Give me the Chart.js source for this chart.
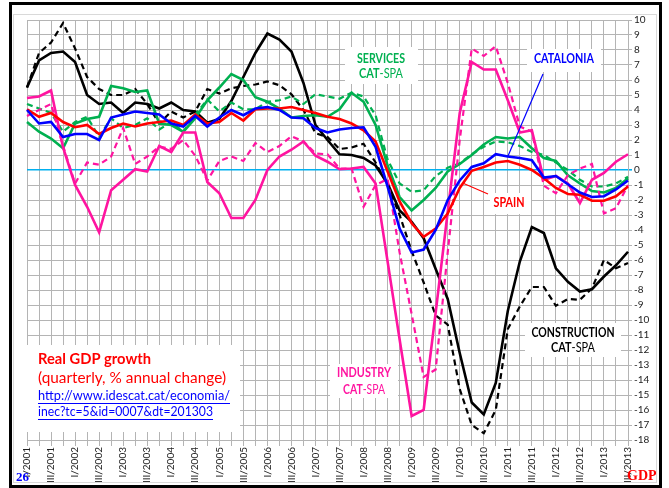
<!DOCTYPE html>
<html>
<head>
<meta charset="utf-8">
<script src="https://cdn.jsdelivr.net/npm/chart.js@4.4.1/dist/chart.umd.min.js"></script>
<style>
    html, body { margin: 0; padding: 0; background: #fff; }
    #wrap { width: 669px; height: 488px; }
</style>
</head>
<body>
<div id="wrap"><canvas id="gdp" width="669" height="488"></canvas></div>
<script>
// Quarters I/2001 ... III/2013
const romans = ['I', 'II', 'III', 'IV'];
const quarters = [];
for (let year = 2001; year <= 2013; year++) {
    romans.forEach((r, q) => {
        if (year < 2013 || q < 3) quarters.push(r + '/' + year);
    });
}

// Real GDP growth, % annual change
const catalonia = [4.0, 3.1, 3.2, 2.2, 2.4, 2.4, 2.0, 3.5, 3.7, 3.9, 3.8, 3.7, 3.1, 2.9, 3.6, 2.9, 3.5,
    4.0, 3.65, 4.1, 4.2, 4.0, 3.5, 3.45, 2.8, 2.5, 2.7, 2.8, 2.85, 1.55, -1.1, -3.9, -5.5, -5.3, -4.0,
    -2.0, -0.7, 0.2, 0.45, 1.05, 0.9, 0.8, 0.65, -0.5, -0.4, -0.95, -1.5, -1.8, -1.75, -1.3, -0.7];
const spain = [4.05, 3.55, 3.8, 3.2, 2.85, 3.0, 2.4, 2.8, 3.1, 2.9, 3.1, 3.2, 3.3, 3.0, 3.7, 3.1, 3.2,
    3.8, 3.3, 4.05, 4.1, 4.1, 4.2, 4.0, 3.8, 3.55, 3.4, 3.1, 2.65, 1.9, -0.1, -2.1, -3.55, -4.45, -3.9,
    -2.9, -1.2, -0.05, 0.2, 0.5, 0.6, 0.35, 0.0, -0.55, -1.2, -1.6, -1.65, -2.05, -2.05, -1.75, -1.1];
const servicesCat = [3.2, 2.55, 2.1, 1.45, 3.1, 3.4, 3.55, 5.6, 5.45, 5.2, 5.3, 3.1, 3.0, 2.55, 3.45, 4.65, 5.5,
    6.4, 6.0, 4.85, 4.55, 4.1, 3.5, 3.6, 3.65, 3.55, 4.05, 5.15, 4.55, 3.0, 0.3, -1.8, -2.7, -2.0, -1.2,
    -0.1, 0.4, 1.0, 1.7, 2.2, 2.1, 2.2, 1.45, 0.8, 0.6, -0.35, -0.9, -1.4, -1.5, -1.2, -0.55];
const servicesSpa = [4.4, 4.1, 3.8, 2.55, 3.2, 3.55, 2.2, 3.45, 2.8, 3.0, 3.45, 2.7, 3.2, 2.55, 3.7, 4.7, 3.9,
    4.5, 4.05, 4.05, 4.55, 4.65, 4.9, 4.4, 5.05, 4.9, 4.75, 5.15, 4.9, 3.65, 0.7, -0.9, -1.45, -1.35, -0.4,
    0.15, 0.45, 1.05, 1.55, 1.9, 1.85, 1.6, 1.2, 1.0, 0.5, 0.0, -0.65, -1.1, -1.1, -0.9, -0.45];
const industryCat = [4.8, 4.9, 5.3, 1.5, -1.0, -2.45, -4.15, -1.35, -0.65, 0.05, -0.1, 1.6, 1.2, 2.5, 2.5, -0.8, -1.55,
    -3.2, -3.2, -2.0, 0.0, 0.9, 1.35, 1.9, 0.95, 0.55, 0.05, 0.1, 0.2, -0.9, -6.1, -11.3, -16.4, -16.0, -9.5,
    -2.8, 3.8, 7.2, 6.7, 6.7, 4.65, 2.5, 2.65, -0.65, -0.4, -0.9, -2.2, -0.65, -0.2, 0.55, 1.05];
const industrySpa = [3.6, 4.0, 4.4, 1.6, -0.9, 0.5, 0.35, 0.9, 2.8, 0.4, 0.9, 1.55, 1.4, 2.0, 0.95, -0.7, 0.6,
    0.9, 0.6, 1.8, 1.2, 1.6, 2.25, 1.9, 1.1, 1.05, 0.1, 0.1, -2.45, -1.0, -0.6, -5.5, -9.6, -13.8, -13.3,
    -5.5, 2.0, 8.1, 7.6, 8.25, 5.8, 2.9, 2.55, -1.05, -1.55, -0.35, 0.1, 0.4, -2.9, -2.55, -1.0];
const constructionCat = [5.5, 7.3, 7.8, 7.9, 7.2, 5.0, 4.4, 4.5, 3.8, 4.5, 4.4, 4.1, 4.5, 4.0, 3.9, 3.15, 3.4,
    4.6, 6.2, 7.8, 9.1, 8.7, 7.9, 5.8, 3.0, 2.0, 1.05, 1.0, 0.8, 0.3, -0.9, -2.7, -3.45, -4.55, -6.6,
    -8.6, -12.2, -15.5, -16.3, -14.2, -9.4, -6.1, -3.8, -4.2, -6.55, -7.45, -8.1, -7.95, -7.1, -6.35, -5.45];
const constructionSpa = [5.5, 7.8, 8.5, 9.8, 8.1, 6.2, 5.4, 5.0, 5.0, 5.4, 4.4, 3.1, 3.9, 3.5, 3.9, 5.4, 5.1,
    5.45, 5.6, 5.7, 5.9, 5.65, 5.05, 4.0, 2.45, 2.2, 1.4, 1.5, 1.75, 0.5, -1.0, -3.0, -5.4, -7.5, -9.7,
    -10.3, -14.6, -17.0, -17.55, -16.0, -10.6, -9.1, -7.8, -7.8, -9.05, -8.6, -8.65, -7.9, -6.0, -6.55, -6.2];

const GREEN = '#00b050';
const PINK = '#ff14a0';
const GRID = '#b4b4b4';
const FONT = 'Lato';

function line(label, data, color, dashed) {
    return {
        label: label,
        data: data,
        borderColor: color,
        borderWidth: dashed ? 2.2 : 2.6,
        borderDash: dashed ? [6, 4] : [],
        pointRadius: 0,
        tension: 0,
        fill: false
    };
}

// Text squeezed to a given width (the original uses a narrow font)
function fitText(ctx, text, x, y, width, font, color, align) {
    ctx.save();
    ctx.font = font;
    ctx.fillStyle = color;
    ctx.textBaseline = 'middle';
    ctx.textAlign = 'left';
    const w = ctx.measureText(text).width;
    const k = width / w;
    let left = x;
    if (align === 'center') left = x - width / 2;
    ctx.translate(left, y);
    ctx.scale(k, 1);
    ctx.fillText(text, 0, 0);
    ctx.restore();
}

// "CAT" bold + "-SPA" normal, centred
function catSpa(ctx, cx, y, width, color) {
    ctx.save();
    ctx.font = 'bold 12.5px ' + FONT;
    const w1 = ctx.measureText('CAT').width;
    ctx.font = '12.5px ' + FONT;
    const w2 = ctx.measureText('-SPA').width;
    const k = width / (w1 + w2);
    ctx.translate(cx - width / 2, y);
    ctx.scale(k, 1);
    ctx.fillStyle = color;
    ctx.textBaseline = 'middle';
    ctx.textAlign = 'left';
    ctx.font = 'bold 12.5px ' + FONT;
    ctx.fillText('CAT', 0, 0);
    ctx.font = '12.5px ' + FONT;
    ctx.fillText('-SPA', w1, 0);
    ctx.restore();
}

const boxes = [
    [345, 47, 73, 37],   // services
    [527, 49, 74, 23],   // catalonia
    [490, 193, 41, 21],  // spain
    [330, 364, 68, 34],  // industry
    [525, 323, 96, 34],  // construction
    [27, 345, 213, 87]   // source box
];

const decorations = {
    id: 'decorations',
    beforeDraw(chart) {
        const ctx = chart.ctx;
        ctx.save();
        ctx.fillStyle = '#fff';
        ctx.fillRect(0, 0, chart.width, chart.height);
        ctx.restore();
    },
    beforeDatasetsDraw(chart) {
        const ctx = chart.ctx;
        ctx.save();
        ctx.fillStyle = '#fff';
        boxes.forEach(b => ctx.fillRect(b[0], b[1], b[2], b[3]));
        ctx.restore();
    },
    afterDatasetsDraw(chart) {
        const ctx = chart.ctx;
        const xs = chart.scales.x;
        const ys = chart.scales.y;

        // connector lines
        ctx.save();
        ctx.lineWidth = 1.2;
        ctx.strokeStyle = '#0000ff';
        ctx.beginPath();
        ctx.moveTo(543, 74);
        ctx.lineTo(xs.getPixelForValue(40), ys.getPixelForValue(catalonia[40]));
        ctx.stroke();
        ctx.strokeStyle = '#ff0000';
        ctx.beginPath();
        ctx.moveTo(488, 194);
        ctx.lineTo(xs.getPixelForValue(36) + 4, ys.getPixelForValue(-0.9));
        ctx.stroke();
        ctx.restore();

        fitText(ctx, 'SERVICES', 381, 59, 48, 'bold 12.5px ' + FONT, GREEN, 'center');
        catSpa(ctx, 381, 74, 44, GREEN);
        fitText(ctx, 'CATALONIA', 564, 59, 60, 'bold 12.5px ' + FONT, '#0000ff', 'center');
        fitText(ctx, 'SPAIN', 509, 203, 31, 'bold 12.5px ' + FONT, '#ff0000', 'center');
        fitText(ctx, 'INDUSTRY', 364, 373, 54, 'bold 12.5px ' + FONT, PINK, 'center');
        catSpa(ctx, 364, 390, 42, PINK);
        fitText(ctx, 'CONSTRUCTION', 573, 333, 83, 'bold 12.5px ' + FONT, '#000', 'center');
        catSpa(ctx, 573, 348, 44, '#000');

        // source box
        fitText(ctx, 'Real GDP growth', 38, 359, 113, 'bold 15px ' + FONT, '#ff0000', 'left');
        fitText(ctx, '(quarterly, % annual change)', 38, 378, 188, '15px ' + FONT, '#ff0000', 'left');
        fitText(ctx, 'http://www.idescat.cat/economia/', 38, 396, 192, '13px ' + FONT, '#0000ff', 'left');
        fitText(ctx, 'inec?tc=5&id=0007&dt=201303', 38, 412, 175, '13px ' + FONT, '#0000ff', 'left');
        ctx.save();
        ctx.strokeStyle = '#0000ff';
        ctx.lineWidth = 1;
        ctx.beginPath();
        ctx.moveTo(38, 403.5); ctx.lineTo(230, 403.5);
        ctx.moveTo(38, 419.5); ctx.lineTo(213, 419.5);
        ctx.stroke();
        ctx.restore();
    },
    afterDraw(chart) {
        const ctx = chart.ctx;
        ctx.save();
        ctx.textBaseline = 'alphabetic';
        ctx.font = 'bold 13px "Liberation Serif"';
        ctx.fillStyle = '#0000ff';
        ctx.textAlign = 'left';
        ctx.fillText('26', 16, 481);
        ctx.fillStyle = '#ff0000';
        ctx.font = 'bold 14px "Liberation Serif"';
        ctx.fillText('GDP', 627, 480);

        ctx.strokeStyle = '#000';
        ctx.lineWidth = 3;
        ctx.strokeRect(10.5, 3.5, 650, 483);
        ctx.strokeStyle = '#d9d9d9';
        ctx.lineWidth = 1;
        ctx.strokeRect(13.5, 14.5, 643, 468);
        ctx.restore();
    }
};

new Chart(document.getElementById('gdp'), {
    type: 'line',
    data: {
        labels: quarters,
        datasets: [
            line('Catalonia', catalonia, '#0000ff', false),
            line('Spain', spain, '#ff0000', false),
            line('Industry CAT', industryCat, PINK, false),
            line('Industry SPA', industrySpa, PINK, true),
            line('Services CAT', servicesCat, GREEN, false),
            line('Services SPA', servicesSpa, GREEN, true),
            line('Construction CAT', constructionCat, '#000', false),
            line('Construction SPA', constructionSpa, '#000', true)
        ]
    },
    options: {
        responsive: false,
        animation: false,
        layout: { padding: { left: 27, top: 20, right: 0, bottom: 0 } },
        plugins: {
            legend: { display: false },
            tooltip: { enabled: false }
        },
        scales: {
            x: {
                type: 'category',
                offset: false,
                grid: { color: GRID, lineWidth: 1, tickLength: 6 },
                border: { color: GRID },
                ticks: {
                    autoSkip: false,
                    maxRotation: 90,
                    minRotation: 90,
                    padding: 1,
                    color: '#222',
                    font: { family: FONT, size: 10 },
                    callback: function(value, index) {
                        return index % 2 === 0 ? this.getLabelForValue(value) : '';
                    }
                },
                afterFit: scale => { scale.height = 48; }
            },
            y: {
                position: 'right',
                min: -18,
                max: 10,
                grid: {
                    color: c => c.tick.value === 0 ? '#00b0f0' : GRID,
                    lineWidth: c => c.tick.value === 0 ? 1.6 : 1,
                    tickLength: 4
                },
                border: { color: GRID },
                ticks: {
                    stepSize: 1,
                    padding: 2,
                    color: '#222',
                    font: { family: FONT, size: 10 }
                },
                afterFit: scale => { scale.width = 41; }
            }
        }
    },
    plugins: [decorations]
});
</script>
</body>
</html>
